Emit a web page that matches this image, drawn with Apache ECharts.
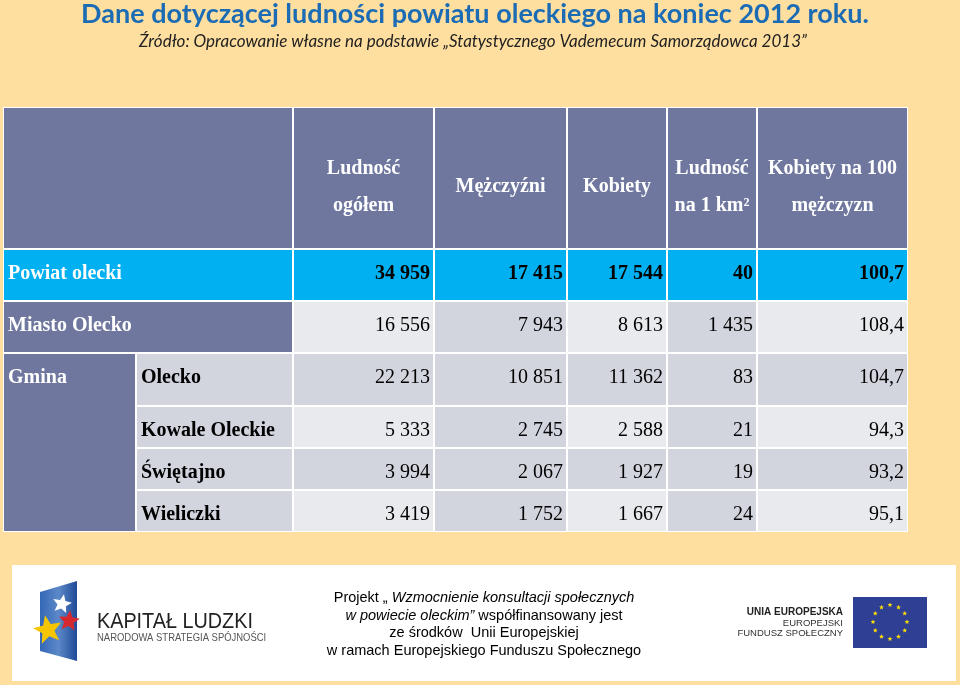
<!DOCTYPE html>
<html>
<head>
    <meta charset="utf-8"/>
    <title>Dane dotyczącej ludności powiatu oleckiego</title>
    <style>
        html, body { margin: 0; padding: 0; background: #FFDFA0; }
        #main { width: 960px; height: 685px; }
    </style>
</head>
<body>
<div id="main"></div>
<script src="https://cdn.jsdelivr.net/npm/echarts@6/dist/echarts.min.js"></script>
<script type="text/javascript">

    // dane z tabeli
    var headers = ['Ludność\nogółem', 'Mężczyźni', 'Kobiety', 'Ludność\nna 1 km²', 'Kobiety na 100\nmężczyzn'];
    var rowLabels = ['Powiat olecki', 'Miasto Olecko', 'Olecko', 'Kowale Oleckie', 'Świętajno', 'Wieliczki'];
    var groupLabel = 'Gmina';
    var ludnosc = [34959, 16556, 22213, 5333, 3994, 3419];
    var mezczyzni = [17415, 7943, 10851, 2745, 2067, 1752];
    var kobiety = [17544, 8613, 11362, 2588, 1927, 1667];
    var gestosc = [40, 1435, 83, 21, 19, 24];
    var kobietyNa100 = [100.7, 108.4, 104.7, 94.3, 93.2, 95.1];

    // uklad tabeli (szerokosci kolumn / wysokosci wierszy)
    var colWidths = [133, 157, 141, 133, 100, 90, 151];
    var rowHeights = [142, 52, 52, 53, 42, 42, 42];

    var SLATE = '#6F779F', CYAN = '#00B0F0', LIGHT = '#E9EAEE', DARK = '#D2D5DE';
    var SERIF = '"Liberation Serif", "Times New Roman", serif';

    function edges(arr) {
        var e = [0];
        arr.forEach(function (v, i) { e.push(e[i] + v); });
        return e;
    }
    var cx = edges(colWidths), cy = edges(rowHeights);

    function fmt(v) {
        if (v % 1 !== 0) return v.toFixed(1).replace('.', ',');
        return String(v).replace(/\B(?=(\d{3})+(?!\d))/g, '\u00a0');
    }

    function bandFill(i, col) {
        if (i % 2 === 0) return DARK;
        return col % 2 === 1 ? DARK : LIGHT;
    }

    var cells = [];
    function addCell(c0, c1, r0, r1, fill, text, opt) {
        opt = opt || {};
        cells.push({
            value: [cx[c0], cx[c1 + 1], cy[r0], cy[r1 + 1]],
            fill: fill, text: text || '',
            align: opt.align || 'left', bold: !!opt.bold,
            color: opt.color || '#000', kind: opt.kind || 'row'
        });
    }

    // naglowek
    addCell(0, 1, 0, 0, SLATE, '');
    headers.forEach(function (h, j) {
        addCell(j + 2, j + 2, 0, 0, SLATE, h, {align: 'center', bold: true, color: '#fff', kind: 'head'});
    });

    var columns = [ludnosc, mezczyzni, kobiety, gestosc, kobietyNa100];
    rowLabels.forEach(function (label, i) {
        var r = i + 1;
        if (i === 0) {
            addCell(0, 1, r, r, CYAN, label, {bold: true, color: '#fff'});
        } else if (i === 1) {
            addCell(0, 1, r, r, SLATE, label, {bold: true, color: '#fff'});
        } else {
            if (i === 2) addCell(0, 0, r, rowLabels.length, SLATE, groupLabel, {bold: true, color: '#fff'});
            addCell(1, 1, r, r, bandFill(i, 1), label, {bold: true});
        }
        columns.forEach(function (arr, j) {
            var col = j + 2;
            addCell(col, col, r, r, i === 0 ? CYAN : bandFill(i, col), fmt(arr[i]),
                {align: 'right', bold: i === 0});
        });
    });

    function renderCell(params, api) {
        var c = cells[params.dataIndex];
        var p0 = api.coord([api.value(0), api.value(2)]);
        var p1 = api.coord([api.value(1), api.value(3)]);
        var x = p0[0] + 1, y = p0[1] + 1, w = p1[0] - p0[0] - 2, h = p1[1] - p0[1] - 2;
        var tx = c.align === 'left' ? x + 4 : (c.align === 'right' ? x + w - 3 : x + w / 2);
        var head = c.kind === 'head';
        var ty = head ? y + h / 2 + 9 : y + 24;
        return {
            type: 'group',
            children: [
                {type: 'rect', shape: {x: x, y: y, width: w, height: h}, style: {fill: c.fill}},
                {
                    type: 'text', x: tx, y: ty,
                    style: {
                        text: c.text, fill: c.color, align: c.align, verticalAlign: 'middle',
                        fontFamily: SERIF, fontSize: 20, fontWeight: c.bold ? 'bold' : 'normal',
                        lineHeight: head ? 37 : 22
                    }
                }
            ]
        };
    }

    function star(x, y, R, r, rot) {
        var pts = [];
        for (var k = 0; k < 10; k++) {
            var rad = k % 2 === 0 ? R : r;
            var a = (rot || 0) - Math.PI / 2 + k * Math.PI / 5;
            pts.push([x + rad * Math.cos(a), y + rad * Math.sin(a)]);
        }
        return pts;
    }

    var euStars = [];
    for (var k = 0; k < 12; k++) {
        var a = k * Math.PI / 6;
        euStars.push({
            type: 'polygon',
            shape: {points: star(890 + 17 * Math.cos(a), 622 + 17 * Math.sin(a), 2.6, 1.1)},
            style: {fill: '#FFE000'}
        });
    }

    var chart = echarts.init(document.getElementById('main'));
    var option = {
        backgroundColor: '#FFDFA0',
        animation: false,
        title: [{
            text: 'Dane dotyczącej ludności powiatu oleckiego na koniec 2012 roku.',
            left: 475, top: 1, padding: 0, textAlign: 'center',
            textStyle: {fontFamily: 'Lato', fontWeight: 'bold', fontSize: 27, color: '#1B6CB4'}
        }, {
            text: 'Źródło: Opracowanie własne na podstawie „Statystycznego Vademecum Samorządowca 2013”',
            left: 473, top: 33, padding: 0, textAlign: 'center',
            textStyle: {fontFamily: 'Lato', fontStyle: 'italic', fontWeight: 'normal', fontSize: 17, color: '#222'}
        }],
        grid: {
            left: 3, top: 107, width: 905, height: 425,
            show: true, backgroundColor: '#fff', borderWidth: 0
        },
        xAxis: {type: 'value', min: 0, max: cx[cx.length - 1], show: false},
        yAxis: {type: 'value', min: 0, max: cy[cy.length - 1], inverse: true, show: false},
        series: [{
            type: 'custom',
            renderItem: renderCell,
            clip: false,
            data: cells.map(function (c) { return c.value; })
        }],
        graphic: [
            {type: 'rect', shape: {x: 12, y: 565, width: 944, height: 116}, style: {fill: '#fff'}},
            // logo Kapital Ludzki
            {
                type: 'polygon', shape: {points: [[40, 592], [77, 581], [77, 661], [40, 651]]},
                style: {fill: new echarts.graphic.LinearGradient(0, 0, 1, 0, [
                    {offset: 0, color: '#3468B6'}, {offset: 0.5, color: '#5C88C8'}, {offset: 1, color: '#1E4A97'}])}
            },
            {type: 'polygon', shape: {points: star(62, 604, 10, 4.5, 0.2)}, style: {fill: '#fff'}},
            {type: 'polygon', shape: {points: star(69, 621, 11, 5, 0.1)}, style: {fill: '#D42A2F'}},
            {type: 'polygon', shape: {points: star(48, 630, 15, 6.5, -0.2)}, style: {fill: '#F5C600'}},
            {
                type: 'text', x: 97, y: 622, scaleX: 0.9,
                style: {text: 'KAPITAŁ LUDZKI', fill: '#222', verticalAlign: 'middle',
                    fontFamily: '"Liberation Sans Narrow", "Liberation Sans"', fontSize: 22}
            },
            {
                type: 'text', x: 97, y: 638, scaleX: 0.86,
                style: {text: 'NARODOWA STRATEGIA SPÓJNOŚCI', fill: '#555', verticalAlign: 'middle',
                    fontFamily: '"Liberation Sans Narrow", "Liberation Sans"', fontSize: 11}
            },
            // tekst projektu
            {
                type: 'text', x: 484, y: 598,
                style: {
                    text: '{r|Projekt „ }{i|Wzmocnienie konsultacji społecznych}',
                    align: 'center', verticalAlign: 'middle',
                    rich: {r: {fontFamily: 'Liberation Sans', fontSize: 14.5, fill: '#000'},
                        i: {fontFamily: 'Liberation Sans', fontSize: 14.5, fontStyle: 'italic', fill: '#000'}}
                }
            },
            {
                type: 'text', x: 484, y: 616,
                style: {
                    text: '{i|w powiecie oleckim”}{r| współfinansowany jest}',
                    align: 'center', verticalAlign: 'middle',
                    rich: {r: {fontFamily: 'Liberation Sans', fontSize: 14.5, fill: '#000'},
                        i: {fontFamily: 'Liberation Sans', fontSize: 14.5, fontStyle: 'italic', fill: '#000'}}
                }
            },
            {
                type: 'text', x: 484, y: 633,
                style: {text: 'ze środków  Unii Europejskiej', align: 'center', verticalAlign: 'middle',
                    fontFamily: 'Liberation Sans', fontSize: 14.5, fill: '#000'}
            },
            {
                type: 'text', x: 484, y: 651,
                style: {text: 'w ramach Europejskiego Funduszu Społecznego', align: 'center', verticalAlign: 'middle',
                    fontFamily: 'Liberation Sans', fontSize: 14.5, fill: '#000'}
            },
            // logo UE
            {
                type: 'text', x: 843, y: 612,
                style: {text: 'UNIA EUROPEJSKA', align: 'right', verticalAlign: 'middle',
                    fontFamily: 'Liberation Sans', fontWeight: 'bold', fontSize: 10, fill: '#222'}
            },
            {
                type: 'text', x: 843, y: 623,
                style: {text: 'EUROPEJSKI', align: 'right', verticalAlign: 'middle',
                    fontFamily: 'Liberation Sans', fontSize: 9.5, fill: '#333'}
            },
            {
                type: 'text', x: 843, y: 633,
                style: {text: 'FUNDUSZ SPOŁECZNY', align: 'right', verticalAlign: 'middle',
                    fontFamily: 'Liberation Sans', fontSize: 9.5, fill: '#333'}
            },
            {type: 'rect', shape: {x: 853, y: 597, width: 74, height: 51}, style: {fill: '#2E3F94'}}
        ].concat(euStars)
    };
    chart.setOption(option);

</script>
</body>
</html>
